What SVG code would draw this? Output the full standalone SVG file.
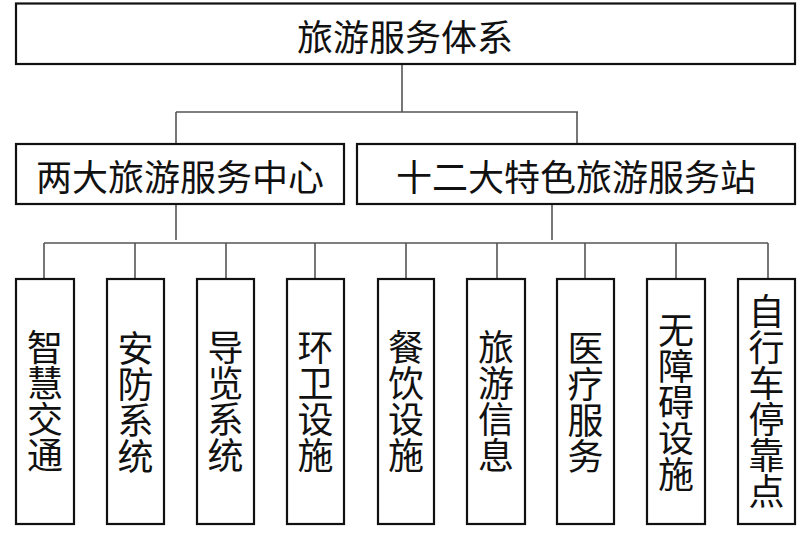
<svg xmlns="http://www.w3.org/2000/svg" width="800" height="535" viewBox="0 0 800 535">
<style>
.box{fill:#fff;stroke:#111;stroke-width:2.2}
.t{font-family:"Noto Sans CJK SC","Noto Sans CJK JP",sans-serif;font-size:36px;fill:#111;text-anchor:middle;dominant-baseline:central}
.v{font-family:"Noto Sans CJK SC","Noto Sans CJK JP",sans-serif;font-size:36px;fill:#111;text-anchor:middle;writing-mode:vertical-rl;text-orientation:upright}
.c{fill:none;stroke:#555;stroke-width:1.6}
</style>
<rect width="800" height="535" fill="#fff"/>
<g id="connectors">
<path class="c" d="M402 64V112M176 112H578M176 112V144M577 112V144"/>
<path class="c" d="M176 204V240M552 204V240M44 243H768M44 243V279M135 243V279M226 243V279M315 243V279M406 243V279M497 243V279M585 243V279M676 243V279M768 243V279"/>
</g>
<g id="root"><rect class="box" x="16" y="3.5" width="779" height="60.5"/><text class="t" x="405" y="35">旅游服务体系</text></g>
<g id="center"><rect class="box" x="16" y="144" width="328" height="60"/><text class="t" x="180" y="175">两大旅游服务中心</text></g>
<g id="station"><rect class="box" x="357" y="144" width="438" height="60"/><text class="t" x="576" y="175">十二大特色旅游服务站</text></g>
<g id="n1"><rect class="box" x="16" y="279" width="58" height="245"/><text class="v" x="45" y="401">智慧交通</text></g>
<g id="n2"><rect class="box" x="107" y="279" width="57" height="245"/><text class="v" x="135.5" y="402">安防系统</text></g>
<g id="n3"><rect class="box" x="197" y="279" width="57" height="245"/><text class="v" x="225.5" y="401">导览系统</text></g>
<g id="n4"><rect class="box" x="287" y="279" width="57" height="245"/><text class="v" x="315.5" y="401">环卫设施</text></g>
<g id="n5"><rect class="box" x="378" y="279" width="56" height="245"/><text class="v" x="406" y="401">餐饮设施</text></g>
<g id="n6"><rect class="box" x="467" y="279" width="58" height="245"/><text class="v" x="496" y="401">旅游信息</text></g>
<g id="n7"><rect class="box" x="557" y="279" width="57" height="245"/><text class="v" x="585.5" y="402">医疗服务</text></g>
<g id="n8"><rect class="box" x="647" y="279" width="58" height="245"/><text class="v" x="676" y="402">无障碍设施</text></g>
<g id="n9"><rect class="box" x="738" y="279" width="57" height="245"/><text class="v" x="766.5" y="401.5">自行车停靠点</text></g>
</svg>
